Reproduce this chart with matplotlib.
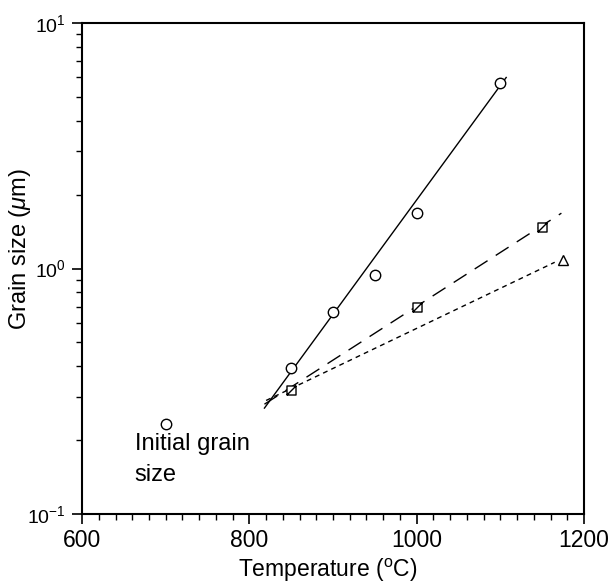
import numpy as np
import matplotlib
matplotlib.use("Agg")
import matplotlib.pyplot as plt
from matplotlib.path import Path
from matplotlib.ticker import LogLocator, MultipleLocator, LogFormatterMathtext, NullFormatter

plt.rcParams['font.family'] = ['Liberation Sans', 'DejaVu Sans']
plt.rcParams['mathtext.fontset'] = 'custom'
plt.rcParams['mathtext.rm'] = 'Liberation Sans'
plt.rcParams['mathtext.it'] = 'Liberation Sans:italic'

# measured points
circle_T = [700, 850, 900, 950, 1000, 1100]
circle_d = [0.233, 0.393, 0.665, 0.94, 1.68, 5.7]
square_T = [850, 1000, 1150]
square_d = [0.32, 0.70, 1.48]
tri_T = [1175]
tri_d = [1.08]

# fitted lines (end points)
solid_T = [818, 1107]
solid_d = [0.27, 6.0]
long_T = [818, 1173]
long_d = [0.28, 1.68]
short_T = [820, 1165]
short_d = [0.29, 1.06]

# square with a diagonal slash
sq_marker = Path([(-1, -1), (1, -1), (1, 1), (-1, 1), (-1, -1), (-1, -1), (1, 1)],
                 [Path.MOVETO, Path.LINETO, Path.LINETO, Path.LINETO, Path.CLOSEPOLY,
                  Path.MOVETO, Path.LINETO])

fig = plt.figure(figsize=(6.08, 5.83), dpi=100)
ax = fig.add_axes([0.135, 0.1184, 0.8255, 0.8421])

ax.plot(solid_T, solid_d, color='black', lw=1.0)
ax.plot(long_T, long_d, color='black', lw=1.0, dashes=(11, 7))
ax.plot(short_T, short_d, color='black', lw=1.0, dashes=(3.5, 3))

ax.plot(circle_T, circle_d, 'o', ms=7.5, mfc='white', mec='black', mew=1.0, ls='none')
ax.plot(square_T, square_d, marker=sq_marker, ms=6.5, mfc='white', mec='black', mew=1.0, ls='none')
ax.plot(tri_T, tri_d, '^', ms=6.5, mfc='white', mec='black', mew=1.0, ls='none')

ax.text(663, 0.1667, 'Initial grain\nsize', fontsize=17, ha='left', va='center', linespacing=1.5)

ax.set_yscale('log')
ax.set_xlim(600, 1200)
ax.set_ylim(0.1, 10)
ax.xaxis.set_major_locator(MultipleLocator(200))
ax.xaxis.set_minor_locator(MultipleLocator(20))
ax.yaxis.set_major_locator(LogLocator(base=10))
ax.yaxis.set_major_formatter(LogFormatterMathtext())
ax.yaxis.set_minor_locator(LogLocator(base=10, subs=np.arange(2, 10)))
ax.yaxis.set_minor_formatter(NullFormatter())

ax.tick_params(which='major', direction='out', length=7, width=1.2)
ax.tick_params(axis='x', labelsize=16.5)
ax.tick_params(axis='y', labelsize=14, pad=5)
ax.tick_params(which='minor', direction='out', length=4, width=1.0)
for s in ax.spines.values():
    s.set_linewidth(1.5)

ax.set_xlabel('Temperature ($^{\\rm o}$C)', fontsize=16.5)
ax.xaxis.set_label_coords(0.49, -0.088)
ax.set_ylabel('Grain size ($\\mu$m)', fontsize=17)
ax.yaxis.set_label_coords(-0.097, 0.54)

fig.savefig('out.png', dpi=100)
